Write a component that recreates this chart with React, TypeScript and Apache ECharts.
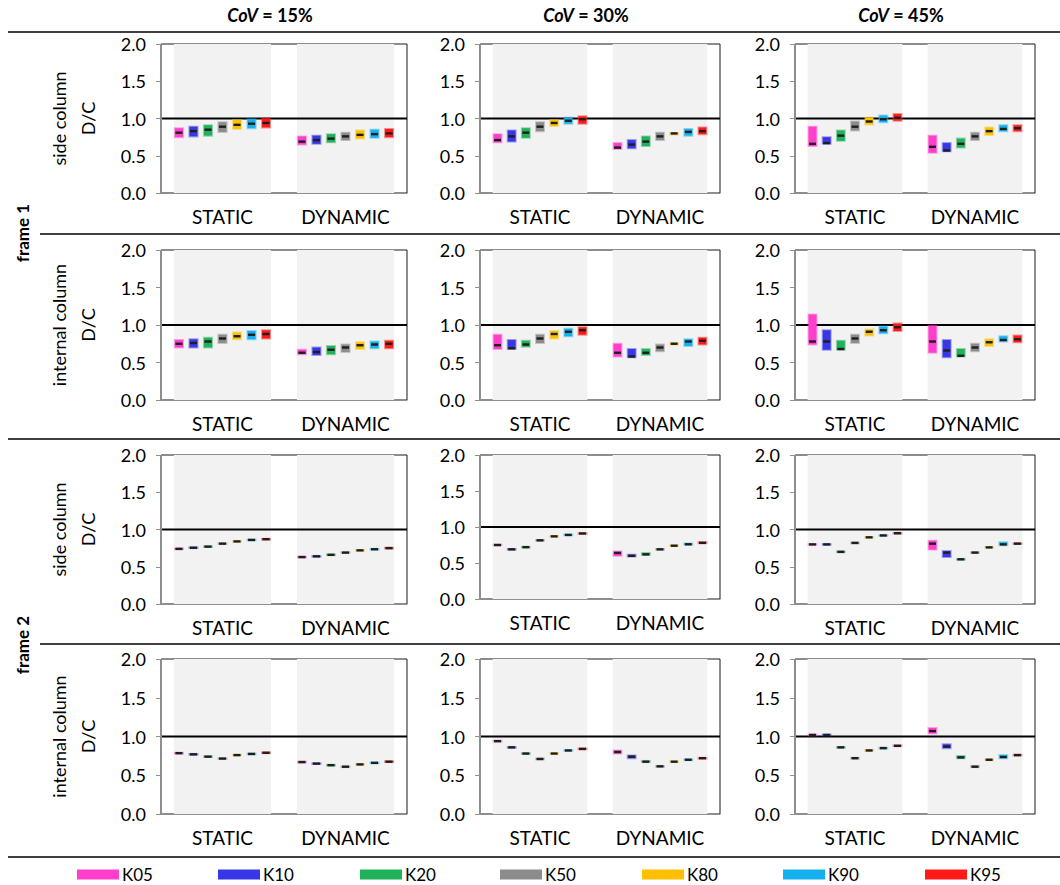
import React, { useEffect, useRef } from "react";
import * as echarts from "echarts";

// ---------- DATA ----------
const CATEGORIES = ["STATIC", "DYNAMIC"];
const LEVELS = ["K05", "K10", "K20", "K50", "K80", "K90", "K95"];
const LEVEL_COLORS = ["#FF3FCB", "#3737E6", "#1FB25A", "#8C8C8C", "#FFC000", "#14B1EE", "#FF1A1A"];
const COV_TITLES = ["15%", "30%", "45%"];
const ROW_LABELS = ["side column", "internal column", "side column", "internal column"];
const FRAME_LABELS = ["frame 1", "frame 2"];
const Y_MIN = 0;
const Y_MAX = 2;
const Y_INTERVAL = 0.5;

// each array: 7 STATIC values (K05..K95) then 7 DYNAMIC values (K05..K95)
// frame 1, side column
const f1Side15Lo = [0.75, 0.76, 0.77, 0.82, 0.86, 0.87, 0.88, 0.65, 0.66, 0.68, 0.71, 0.73, 0.74, 0.75];
const f1Side15Md = [0.81, 0.83, 0.85, 0.89, 0.915, 0.93, 0.94, 0.69, 0.71, 0.73, 0.76, 0.78, 0.79, 0.80];
const f1Side15Hi = [0.87, 0.89, 0.91, 0.95, 0.98, 0.99, 1.0, 0.76, 0.77, 0.79, 0.81, 0.84, 0.85, 0.86];

const f1Side30Lo = [0.68, 0.69, 0.74, 0.83, 0.9, 0.93, 0.93, 0.59, 0.6, 0.63, 0.71, 0.785, 0.77, 0.79];
const f1Side30Md = [0.71, 0.76, 0.81, 0.89, 0.94, 0.97, 0.99, 0.61, 0.65, 0.69, 0.76, 0.8, 0.82, 0.83];
const f1Side30Hi = [0.79, 0.84, 0.87, 0.95, 0.98, 1.01, 1.03, 0.67, 0.71, 0.76, 0.81, 0.805, 0.86, 0.88];

const f1Side45Lo = [0.63, 0.66, 0.7, 0.84, 0.92, 0.95, 0.97, 0.54, 0.56, 0.61, 0.71, 0.78, 0.83, 0.83];
const f1Side45Md = [0.66, 0.67, 0.77, 0.89, 0.96, 0.99, 1.01, 0.62, 0.57, 0.66, 0.76, 0.83, 0.86, 0.87];
const f1Side45Hi = [0.89, 0.75, 0.84, 0.96, 1.01, 1.04, 1.06, 0.77, 0.67, 0.73, 0.81, 0.88, 0.91, 0.91];

// frame 1, internal column
const f1Int15Lo = [0.7, 0.7, 0.7, 0.76, 0.81, 0.81, 0.82, 0.61, 0.6, 0.61, 0.64, 0.68, 0.69, 0.69];
const f1Int15Md = [0.75, 0.76, 0.78, 0.82, 0.85, 0.87, 0.88, 0.63, 0.64, 0.67, 0.7, 0.73, 0.74, 0.75];
const f1Int15Hi = [0.8, 0.81, 0.83, 0.87, 0.9, 0.92, 0.93, 0.67, 0.7, 0.72, 0.74, 0.77, 0.78, 0.79];

const f1Int30Lo = [0.68, 0.68, 0.71, 0.76, 0.82, 0.85, 0.87, 0.58, 0.57, 0.6, 0.65, 0.74, 0.72, 0.74];
const f1Int30Md = [0.73, 0.69, 0.74, 0.82, 0.88, 0.91, 0.93, 0.63, 0.58, 0.63, 0.7, 0.75, 0.78, 0.79];
const f1Int30Hi = [0.87, 0.8, 0.79, 0.87, 0.92, 0.95, 0.97, 0.75, 0.68, 0.68, 0.74, 0.76, 0.81, 0.83];

const f1Int45Lo = [0.74, 0.67, 0.67, 0.76, 0.86, 0.89, 0.92, 0.63, 0.57, 0.58, 0.65, 0.72, 0.78, 0.77];
const f1Int45Md = [0.78, 0.78, 0.68, 0.82, 0.91, 0.93, 0.97, 0.78, 0.66, 0.59, 0.7, 0.77, 0.8, 0.81];
const f1Int45Hi = [1.14, 0.93, 0.79, 0.87, 0.94, 0.98, 1.02, 0.99, 0.8, 0.68, 0.75, 0.81, 0.85, 0.86];

// frame 2, side column
const f2Side15Lo = [0.735, 0.75, 0.765, 0.805, 0.835, 0.855, 0.865, 0.625, 0.635, 0.655, 0.685, 0.715, 0.73, 0.745];
const f2Side15Md = [0.74, 0.755, 0.77, 0.81, 0.84, 0.86, 0.87, 0.63, 0.64, 0.66, 0.69, 0.72, 0.735, 0.75];
const f2Side15Hi = [0.745, 0.76, 0.775, 0.815, 0.845, 0.865, 0.875, 0.635, 0.645, 0.665, 0.695, 0.725, 0.74, 0.755];

const f2Side30Lo = [0.745, 0.685, 0.715, 0.81, 0.865, 0.885, 0.905, 0.6, 0.59, 0.61, 0.685, 0.735, 0.755, 0.775];
const f2Side30Md = [0.75, 0.69, 0.72, 0.815, 0.87, 0.89, 0.91, 0.64, 0.6, 0.62, 0.69, 0.74, 0.76, 0.78];
const f2Side30Hi = [0.755, 0.695, 0.725, 0.82, 0.875, 0.895, 0.915, 0.66, 0.615, 0.64, 0.695, 0.745, 0.77, 0.79];

const f2Side45Lo = [0.795, 0.795, 0.695, 0.815, 0.89, 0.915, 0.945, 0.73, 0.63, 0.595, 0.685, 0.755, 0.79, 0.805];
const f2Side45Md = [0.8, 0.8, 0.7, 0.82, 0.895, 0.92, 0.95, 0.81, 0.69, 0.6, 0.69, 0.76, 0.8, 0.81];
const f2Side45Hi = [0.805, 0.805, 0.705, 0.825, 0.9, 0.925, 0.955, 0.85, 0.71, 0.605, 0.695, 0.765, 0.83, 0.815];

// frame 2, internal column
const f2Int15Lo = [0.78, 0.765, 0.735, 0.71, 0.755, 0.77, 0.785, 0.665, 0.645, 0.625, 0.605, 0.635, 0.655, 0.67];
const f2Int15Md = [0.785, 0.77, 0.74, 0.715, 0.76, 0.775, 0.79, 0.67, 0.65, 0.63, 0.61, 0.64, 0.66, 0.675];
const f2Int15Hi = [0.79, 0.775, 0.745, 0.72, 0.765, 0.78, 0.795, 0.675, 0.655, 0.635, 0.615, 0.645, 0.665, 0.68];

const f2Int30Lo = [0.935, 0.855, 0.775, 0.705, 0.775, 0.815, 0.835, 0.78, 0.72, 0.67, 0.61, 0.67, 0.695, 0.715];
const f2Int30Md = [0.94, 0.86, 0.78, 0.71, 0.78, 0.82, 0.84, 0.8, 0.74, 0.675, 0.615, 0.675, 0.7, 0.72];
const f2Int30Hi = [0.945, 0.865, 0.785, 0.715, 0.785, 0.825, 0.845, 0.82, 0.755, 0.685, 0.62, 0.68, 0.705, 0.725];

const f2Int45Lo = [1.015, 1.015, 0.855, 0.715, 0.815, 0.845, 0.875, 1.04, 0.85, 0.72, 0.605, 0.695, 0.72, 0.755];
const f2Int45Md = [1.02, 1.02, 0.86, 0.72, 0.82, 0.85, 0.88, 1.07, 0.87, 0.73, 0.61, 0.7, 0.735, 0.76];
const f2Int45Hi = [1.025, 1.025, 0.865, 0.725, 0.825, 0.855, 0.885, 1.11, 0.9, 0.75, 0.62, 0.705, 0.76, 0.765];

// panels in reading order (row by row)
const PANELS = [
  [f1Side15Lo, f1Side15Md, f1Side15Hi],
  [f1Side30Lo, f1Side30Md, f1Side30Hi],
  [f1Side45Lo, f1Side45Md, f1Side45Hi],
  [f1Int15Lo, f1Int15Md, f1Int15Hi],
  [f1Int30Lo, f1Int30Md, f1Int30Hi],
  [f1Int45Lo, f1Int45Md, f1Int45Hi],
  [f2Side15Lo, f2Side15Md, f2Side15Hi],
  [f2Side30Lo, f2Side30Md, f2Side30Hi],
  [f2Side45Lo, f2Side45Md, f2Side45Hi],
  [f2Int15Lo, f2Int15Md, f2Int15Hi],
  [f2Int30Lo, f2Int30Md, f2Int30Hi],
  [f2Int45Lo, f2Int45Md, f2Int45Hi],
];

// ---------- LAYOUT ----------
const W = 1060;
const H = 885;
const FONT = "Lato, 'Open Sans', sans-serif";
const COL_LEFT = [161, 480, 795];
const COL_RIGHT = [407, 720, 1035];
const ROW_TOP = [44, 250, 455, 659];
const ROW_BOTTOM = [193, 400, 604, 814];
const BAND_FRAC = 0.79;
const SLOT_FRAC = 0.118;
const BAR_FRAC = 0.066;
const LEGEND_LEFT = [77, 218, 360, 500, 642, 783, 925];

function buildOption() {
  const grids: any[] = [];
  const xAxes: any[] = [];
  const yAxes: any[] = [];
  const series: any[] = [];

  PANELS.forEach((panel, p) => {
    const row = Math.floor(p / 3);
    const col = p % 3;
    const bottom = p === 7 ? 599 : ROW_BOTTOM[row];
    grids.push({
      left: COL_LEFT[col],
      top: ROW_TOP[row],
      width: COL_RIGHT[col] - COL_LEFT[col],
      height: bottom - ROW_TOP[row],
      show: true,
      borderColor: "#1a1a1a",
      borderWidth: 1,
      backgroundColor: "transparent",
      containLabel: false,
    });
    xAxes.push({
      type: "category",
      gridIndex: p,
      data: CATEGORIES,
      boundaryGap: true,
      axisLine: { show: true, lineStyle: { color: "#8f8f8f", width: 1 } },
      axisTick: { show: false },
      splitLine: { show: false },
      axisLabel: { fontSize: 19, color: "#000", fontFamily: FONT, margin: 14, interval: 0 },
      z: 5,
    });
    yAxes.push({
      type: "value",
      gridIndex: p,
      min: Y_MIN,
      max: Y_MAX,
      interval: Y_INTERVAL,
      axisLine: { show: true, lineStyle: { color: "#8f8f8f", width: 1 } },
      axisTick: { show: true, length: 5, lineStyle: { color: "#8f8f8f" } },
      splitLine: { show: false },
      axisLabel: {
        fontSize: 18,
        color: "#000",
        fontFamily: FONT,
        margin: 15,
        formatter: (v: number) => v.toFixed(1),
      },
      z: 5,
    });

    // gray background bands
    series.push({
      type: "custom",
      name: "band",
      xAxisIndex: p,
      yAxisIndex: p,
      z: 1,
      silent: true,
      data: CATEGORIES.map((_, i) => [i, Y_MAX]),
      renderItem: (params: any, api: any) => {
        const cat = api.value(0);
        const catW = api.size([1, 0])[0];
        const top = api.coord([cat, Y_MAX]);
        const bot = api.coord([cat, Y_MIN]);
        const w = catW * BAND_FRAC;
        return {
          type: "rect",
          shape: { x: top[0] - w / 2, y: top[1], width: w, height: bot[1] - top[1] },
          style: { fill: "#F2F2F2" },
        };
      },
    });

    // reference line at D/C = 1.0
    series.push({
      type: "custom",
      name: "ref",
      xAxisIndex: p,
      yAxisIndex: p,
      z: 2,
      silent: true,
      data: [[0, 1]],
      renderItem: (params: any, api: any) => {
        const cs = params.coordSys;
        const pt = api.coord([0, api.value(1)]);
        return {
          type: "line",
          shape: { x1: cs.x, y1: pt[1], x2: cs.x + cs.width, y2: pt[1] },
          style: { stroke: "#000", lineWidth: 2 },
        };
      },
    });

    const [lo, md, hi] = panel;
    LEVELS.forEach((name, k) => {
      const color = LEVEL_COLORS[k];
      series.push({
        type: "custom",
        name,
        xAxisIndex: p,
        yAxisIndex: p,
        z: 3,
        itemStyle: { color },
        encode: { x: 0, y: [1, 2, 3] },
        data: CATEGORIES.map((_, i) => [i, lo[i * 7 + k], md[i * 7 + k], hi[i * 7 + k]]),
        renderItem: (params: any, api: any) => {
          const cat = api.value(0);
          const vLo = api.value(1);
          const vMd = api.value(2);
          const vHi = api.value(3);
          const catW = api.size([1, 0])[0];
          const pMd = api.coord([cat, vMd]);
          const pLo = api.coord([cat, vLo]);
          const pHi = api.coord([cat, vHi]);
          const cx = pMd[0] + (k - 3) * SLOT_FRAC * catW;
          const w = BAR_FRAC * catW;
          return {
            type: "group",
            children: [
              {
                type: "rect",
                shape: { x: cx - w / 2, y: pHi[1], width: w, height: Math.max(pLo[1] - pHi[1], 0.5) },
                style: { fill: color, stroke: color, lineWidth: 2, strokeOpacity: 0.45 },
              },
              {
                type: "rect",
                shape: { x: cx - w / 2 + 0.5, y: pMd[1] - 1.2, width: w - 1, height: 2.4 },
                style: { fill: "#1e1e1e" },
              },
            ],
          };
        },
      });
    });
  });

  const graphics: any[] = [];
  const titleCenters = COL_LEFT.map((l, i) => (l + COL_RIGHT[i]) / 2 - 14);
  COV_TITLES.forEach((t, i) => {
    graphics.push({
      type: "text",
      x: titleCenters[i],
      y: 15,
      style: {
        text: `{i|CoV}{b| = ${t}}`,
        align: "center",
        verticalAlign: "middle",
        rich: {
          i: { fontStyle: "italic", fontWeight: "bold", fontSize: 18, fontFamily: FONT, fill: "#000" },
          b: { fontWeight: "bold", fontSize: 18, fontFamily: FONT, fill: "#000" },
        },
      },
    });
  });

  ROW_LABELS.forEach((t, r) => {
    const cy = (ROW_TOP[r] + ROW_BOTTOM[r]) / 2;
    graphics.push({
      type: "text",
      x: 59,
      y: cy,
      rotation: Math.PI / 2,
      style: { text: t, align: "center", verticalAlign: "middle", fontSize: 18, fontFamily: FONT, fill: "#000" },
    });
    graphics.push({
      type: "text",
      x: 88,
      y: cy,
      rotation: Math.PI / 2,
      style: { text: "D/C", align: "center", verticalAlign: "middle", fontSize: 18, fontFamily: FONT, fill: "#000" },
    });
  });

  FRAME_LABELS.forEach((t, f) => {
    graphics.push({
      type: "text",
      x: 22,
      y: f === 0 ? 233 : 645,
      rotation: Math.PI / 2,
      style: { text: t, align: "center", verticalAlign: "middle", fontSize: 17, fontWeight: "bold", fontFamily: FONT, fill: "#000" },
    });
  });

  const hLines = [
    { x1: 8, y: 32 },
    { x1: 40, y: 234 },
    { x1: 8, y: 439 },
    { x1: 40, y: 644 },
    { x1: 8, y: 857 },
  ];
  hLines.forEach((l) => {
    graphics.push({
      type: "line",
      shape: { x1: l.x1, y1: l.y, x2: W, y2: l.y },
      style: { stroke: "#000", lineWidth: 1.4 },
    });
  });

  const legends = LEVELS.map((name, k) => ({
    data: [name],
    left: LEGEND_LEFT[k],
    top: 866,
    icon: "rect",
    itemWidth: 42,
    itemHeight: 10,
    itemGap: 0,
    padding: 0,
    selectedMode: false,
    textStyle: { fontSize: 17, fontFamily: FONT, color: "#000", padding: [0, 0, 0, -2] },
  }));

  return {
    animation: false,
    backgroundColor: "#fff",
    grid: grids,
    xAxis: xAxes,
    yAxis: yAxes,
    series,
    legend: legends,
    graphic: graphics,
  };
}

export default function App() {
  const ref = useRef<HTMLDivElement>(null);
  useEffect(() => {
    if (!ref.current) return;
    const chart = echarts.init(ref.current, undefined, { renderer: "svg" });
    chart.setOption(buildOption() as any);
    return () => chart.dispose();
  }, []);
  return (
    <div
      ref={ref}
      style={{ position: "fixed", left: 0, top: 0, width: W, height: H, background: "#fff" }}
    />
  );
}
